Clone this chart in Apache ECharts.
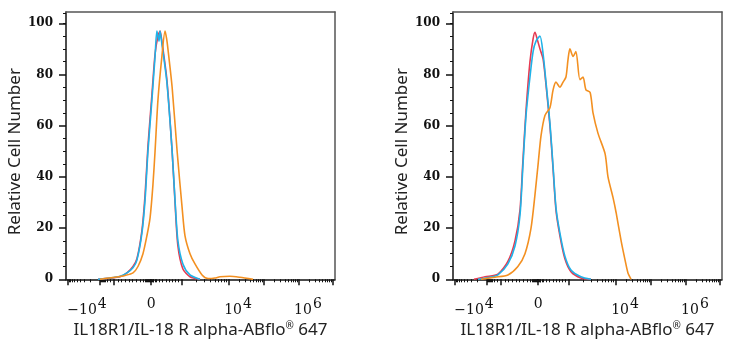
<!DOCTYPE html>
<html><head><meta charset="utf-8">
<script src="https://cdn.jsdelivr.net/npm/echarts@6/dist/echarts.min.js"></script>
<style>html,body{margin:0;padding:0;background:#fff}#c{width:736px;height:350px}</style>
</head><body><div id="c"></div>
<script>
// ---- data (x in display channel units 0..1024, y = relative cell number %) ----
const leftRed = [[122,0],[206,1],[232,2.5],[255,5],[270,8],[289,19],[301,33],[312,52],[327,72],[339,88],[350,95],[358,97],[365,93],[384,78],[404,50],[415,30],[426,13],[445,4],[472,1],[510,0]];
const leftBlue = [[122,0],[168,0.5],[206,1.2],[232,2.5],[255,4.5],[270,7.5],[289,18],[301,31],[312,50],[327,70],[339,87],[346,97],[354,93],[358,97],[365,92],[384,77],[404,50],[415,31],[426,15],[445,6],[472,1.7],[510,0]];
const leftOrange = [[129,0],[187,0.8],[225,1.5],[255,2.5],[274,5],[293,10],[308,17],[320,24],[331,37],[339,50],[350,70],[365,87],[377,97],[383,94],[388,90],[404,75],[423,50],[442,28],[453,17],[472,10],[491,6],[518,1.7],[541,0.3],[567,0.5],[586,1],[624,1.2],[662,0.8],[712,0]];
const rightRed = [[80,0],[122,1],[171,2],[209,7],[236,15],[255,27],[266,46],[278,66],[293,85],[305,94],[312,96.5],[320,94],[331,90],[343,86],[354,76],[369,60],[381,43],[392,27],[407,17],[426,8],[449,3],[487,0.5],[525,0]];
const rightBlue = [[95,0],[141,0.8],[171,1.7],[209,6],[236,13],[255,25],[266,44],[278,64],[293,79],[305,89],[316,93],[331,95],[343,88],[354,77],[369,61],[381,44],[392,28],[407,18],[426,9],[449,3.6],[487,1],[525,0]];
const rightOrange = [[107,0],[160,0.8],[209,1.7],[247,5],[274,10],[297,20],[312,33],[324,45],[335,56],[350,64],[369,67],[381,74],[392,77],[407,75],[419,77],[430,79],[438,86],[445,90],[457,87],[468,89],[483,78],[495,79],[506,74],[522,73],[533,65],[552,57],[579,49],[590,40],[609,32],[621,26],[640,15],[655,7.5],[666,2.5],[678,0]];

// axis tick data
const xMajorTicks = [5, 129, 183, 324, 442, 620, 754, 887, 1016];
const xLabelValues = [80, 324, 655, 921];
const xLabelTexts = ['\u221210{s|4}', '0', '10{s|4}', '10{s|6}'];
const yTickValues = [0, 20, 40, 60, 80, 100];
const yMinorValues = [5,10,15,25,30,35,45,50,55,65,70,75,85,90,95,100,104];
const xTitle = 'IL18R1/IL-18 R alpha-ABflo{r|\u00AE} 647';
const yTitle = 'Relative Cell Number';

// minor ticks of the biexponential axis
function logBetween(a, b, reverse) {
  const out = [];
  for (let k = 2; k <= 9; k++) {
    const f = Math.log10(k);
    out.push(reverse ? b - f * (b - a) : a + f * (b - a));
  }
  return out;
}
const xMinorTicks = [].concat(
  logBetween(5, 129, true),
  logBetween(129, 183, true),
  [197, 211, 225, 239, 253, 267, 281, 295, 301, 306, 310, 314, 317, 320, 322, 326, 328, 331, 334, 338, 344, 356, 368, 380, 392, 404, 416, 428],
  logBetween(442, 620, false),
  logBetween(620, 754, false),
  logBetween(754, 887, false),
  logBetween(887, 1016, false)
);

const INK = '#111';
const serif = 'DejaVu Serif';
const sans = 'Noto Sans';
const colors = { red: '#e63a52', blue: '#1fb2e8', orange: '#f39021' };

const grids = [
  { left: 66, top: 12, width: 269, height: 267.3 },
  { left: 453, top: 12, width: 269, height: 267.3 }
];

const xAxes = [], yAxes = [];
grids.forEach((g, i) => {
  xAxes.push({ gridIndex: i, type: 'value', position: 'bottom', min: 0, max: 1024,
    axisLine: { show: true, onZero: false, lineStyle: { color: INK, width: 1.5 } },
    axisTick: { show: true, customValues: xMajorTicks, length: 6, lineStyle: { color: INK, width: 1.5 } },
    axisLabel: { show: false }, splitLine: { show: false },
    name: xTitle, nameLocation: 'middle', nameGap: 42,
    nameTextStyle: { fontFamily: sans, fontSize: 17, color: '#222', rich: { r: { fontFamily: sans, fontSize: 10, color: '#222', padding: [0, 0, 8, 0] } } } });
  xAxes.push({ gridIndex: i, type: 'value', position: 'bottom', min: 0, max: 1024,
    axisLine: { show: false, onZero: false },
    axisTick: { show: true, customValues: xMinorTicks, length: 3, lineStyle: { color: INK, width: 1 } },
    axisLabel: { show: false }, splitLine: { show: false } });
  xAxes.push({ gridIndex: i, type: 'value', position: 'bottom', min: 0, max: 1024,
    axisLine: { show: false, onZero: false }, axisTick: { show: false }, splitLine: { show: false },
    axisLabel: { show: true, customValues: xLabelValues, margin: 18,
      formatter: v => xLabelTexts[xLabelValues.indexOf(v)],
      fontFamily: serif, fontSize: 14, color: INK,
      rich: { s: { fontFamily: serif, fontSize: 14, color: INK, padding: [0, 0, 12, 1] } } } });
  xAxes.push({ gridIndex: i, type: 'value', position: 'top', min: 0, max: 1024,
    axisLine: { show: true, onZero: false, lineStyle: { color: '#555', width: 1.5 } },
    axisTick: { show: false }, axisLabel: { show: false }, splitLine: { show: false } });

  yAxes.push({ gridIndex: i, type: 'value', position: 'left', min: 0, max: 104.4,
    axisLine: { show: true, onZero: false, lineStyle: { color: INK, width: 1.5 } },
    axisTick: { show: true, customValues: yTickValues, length: 7, lineStyle: { color: INK, width: 1.5 } },
    axisLabel: { show: true, customValues: yTickValues, margin: 13, fontFamily: serif, fontWeight: 'bold', fontSize: 12, color: INK },
    splitLine: { show: false },
    name: yTitle, nameLocation: 'middle', nameGap: 35,
    nameTextStyle: { fontFamily: sans, fontSize: 17, color: '#222', padding: [0, 12, 0, 0] } });
  yAxes.push({ gridIndex: i, type: 'value', position: 'left', min: 0, max: 104.4,
    axisLine: { show: false, onZero: false },
    axisTick: { show: true, customValues: yMinorValues, length: 3, lineStyle: { color: INK, width: 1 } },
    axisLabel: { show: false }, splitLine: { show: false } });
  yAxes.push({ gridIndex: i, type: 'value', position: 'right', min: 0, max: 104.4,
    axisLine: { show: true, onZero: false, lineStyle: { color: '#555', width: 1.5 } },
    axisTick: { show: false }, axisLabel: { show: false }, splitLine: { show: false } });
});

function line(data, color, gi) {
  return { type: 'line', data: data, xAxisIndex: gi * 4, yAxisIndex: gi * 3,
    showSymbol: false, smooth: 0.25, clip: true, silent: true,
    lineStyle: { color: color, width: 1.6 }, itemStyle: { color: color } };
}

const chart = echarts.init(document.getElementById('c'), null, { renderer: 'canvas' });
chart.setOption({
  animation: false,
  backgroundColor: '#fff',
  grid: grids,
  xAxis: xAxes,
  yAxis: yAxes,
  series: [
    line(leftRed, colors.red, 0), line(leftBlue, colors.blue, 0), line(leftOrange, colors.orange, 0),
    line(rightRed, colors.red, 1), line(rightBlue, colors.blue, 1), line(rightOrange, colors.orange, 1)
  ]
});
</script>
</body></html>
